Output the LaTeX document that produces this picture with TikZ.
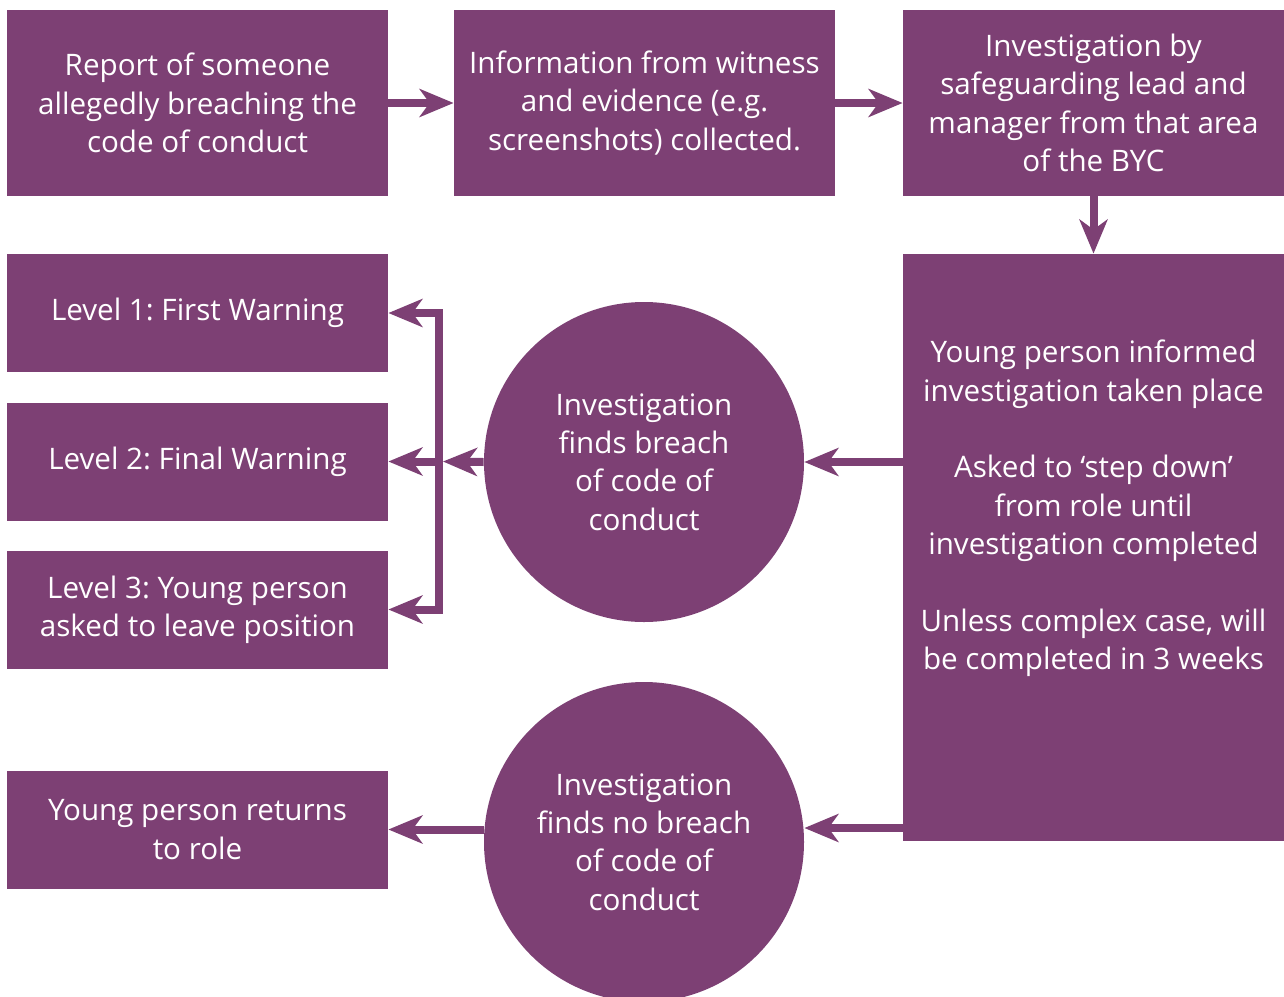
\documentclass[tikz,border=0pt]{standalone}
\usepackage{fontspec}
\setmainfont{Open Sans}
\usepackage{tikz}
\usetikzlibrary{arrows.meta,positioning,shapes.geometric}
\definecolor{bycpurple}{RGB}{125,64,116}
\frenchspacing
\tikzset{
    >={Stealth[length=17pt,width=14pt,inset=5pt]},
    punktbox/.style={
        rectangle,
        fill=bycpurple,
        text=white,
        minimum width=190.5pt,
        align=center,
        inner sep=0pt,
        font={\fontsize{14.8pt}{19.2pt}\selectfont}
    },
    punktcircle/.style={
        circle,
        fill=bycpurple,
        text=white,
        minimum size=160pt,
        align=center,
        inner sep=0pt,
        font={\fontsize{14.8pt}{19.2pt}\selectfont}
    },
    line/.style={draw=bycpurple, line width=4pt, line join=miter},
}

\begin{document}
\begin{tikzpicture}[x=0.5pt, y=-0.5pt]
    \useasboundingbox (0,0) rectangle (1284,996);
    % top row
    \node[punktbox, minimum height=93pt] (report) at (197.5,103) {Report of someone\\allegedly breaching the\\code of conduct};
    \node[punktbox, minimum height=93pt] (info) at (644.5,103) {Information from witness\\and evidence (e.g.\\screenshots) collected.};
    \node[punktbox, minimum height=93pt] (invest) at (1093.5,103) {Investigation by\\safeguarding lead and\\manager from that area\\of the BYC};
    % right column
    \node[punktbox, minimum height=293.5pt] (informed) at (1093.5,547.5) {};
    \node[punktbox, fill=none] (informedtext) at (1093.5,508.5) {Young person informed\\investigation taken place\\[19.2pt]
        Asked to ‘step down’\\from role until\\investigation completed\\[19.2pt]
        Unless complex case, will\\be completed in 3 weeks};
    % outcomes
    \node[punktcircle] (breach) at (644,462) {Investigation\\finds breach\\of code of\\conduct};
    \node[punktcircle] (nobreach) at (644,842) {Investigation\\finds no breach\\of code of\\conduct};
    \node[punktbox, minimum height=59pt] (level1) at (197.5,313) {Level 1: First Warning};
    \node[punktbox, minimum height=59pt] (level2) at (197.5,461.5) {Level 2: Final Warning};
    \node[punktbox, minimum height=59pt] (level3) at (197.5,609.5) {Level 3: Young person\\asked to leave position};
    \node[punktbox, minimum height=59pt] (returns) at (197.5,829.5) {Young person returns\\to role};
    \coordinate (fork) at (438.5,461.5);
    \coordinate (forktip) at (443,461.5);

    \draw[line, ->] (report) -- (info);
    \draw[line, ->] (info) -- (invest);
    \draw[line, ->] (invest) -- (informed);
    \draw[line, ->] (informed.west |- breach) -- (breach.east);
    \draw[line, ->] (breach.west) -- (forktip);
    \draw[line, <->] (level1.east) -| (fork) |- (level3.east);
    \draw[line, ->] (fork) -- (level2.east);
    \draw[line, ->] (informed.west |- 0,828) -- (nobreach.east |- 0,828);
    \draw[line, ->] (nobreach.west |- returns) -- (returns.east);
\end{tikzpicture}
\end{document}
